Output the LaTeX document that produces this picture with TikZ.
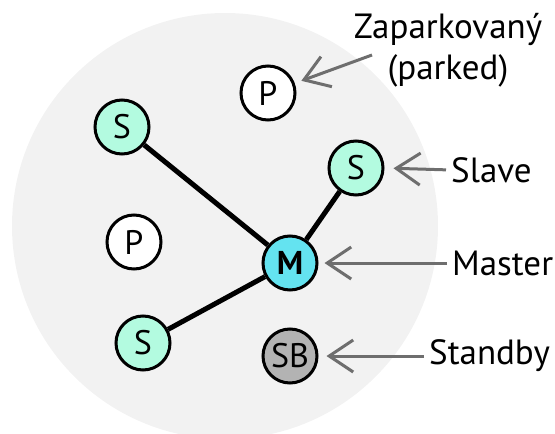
\documentclass[tikz,border=0pt]{standalone}
\usepackage{fontspec}
\setmainfont{PT Sans}
\usetikzlibrary{arrows.meta}
\definecolor{bgc}{HTML}{F2F2F2}
\definecolor{slavec}{HTML}{B3FBE0}
\definecolor{masterc}{HTML}{64E3F0}
\definecolor{sbc}{HTML}{B3B3B3}
\definecolor{arrc}{HTML}{6E6E6E}
\tikzset{
  dev/.style={circle, draw=black, line width=3pt, minimum size=54pt, inner sep=0pt, font=\fontsize{34}{36}\selectfont},
  slavenode/.style={dev, fill=slavec},
  parknode/.style={dev, fill=white},
  masternode/.style={dev, fill=masterc, font=\fontsize{33}{36}\selectfont\bfseries},
  sbnode/.style={dev, fill=sbc},
  link/.style={line width=5pt, black},
  lbl/.style={font=\fontsize{35}{41}\selectfont, inner sep=0pt},
  ptr/.style={draw=arrc, line width=3pt, -{Straight Barb[length=24pt, width=32pt, line width=3pt]}}
}
\begin{document}
\begin{tikzpicture}[x=1pt, y=-1pt]
\useasboundingbox (0,0) rectangle (555,434);
\begin{scope}
\clip (0,0) rectangle (555,434);
\fill[bgc] (225,226) circle (213);
\end{scope}
\node[slavenode] (s1) at (122,127) {S};
\node[parknode] (p1) at (268,93) {P};
\node[slavenode] (s2) at (356,168) {S};
\node[parknode] (p2) at (134,242) {P};
\node[masternode] (m) at (290,263) {M};
\node[slavenode] (s3) at (143,343) {S};
\node[sbnode] (sb) at (290,356) {SB};
\draw[link] (s1) -- (m);
\draw[link] (s2) -- (m);
\draw[link] (s3) -- (m);
\node[lbl, align=center] (park) at (448,50) {Zaparkovaný\\(parked)};
\node[lbl, anchor=west] (slave) at (451,170) {Slave};
\node[lbl, anchor=west] (master) at (452,263) {Master};
\node[lbl, anchor=west] (standby) at (429,356) {Standby};
\coordinate (parkfrom) at (372,55);
\draw[ptr, shorten >=7pt] (parkfrom) -- (p1);
\draw[ptr, shorten <=5pt, shorten >=9pt] (slave.west) -- (s2.east);
\draw[ptr, shorten <=5pt, shorten >=6pt] (master.west) -- (m.east);
\draw[ptr, shorten <=5pt, shorten >=8pt] (standby.west) -- (sb.east);
\end{tikzpicture}
\end{document}
